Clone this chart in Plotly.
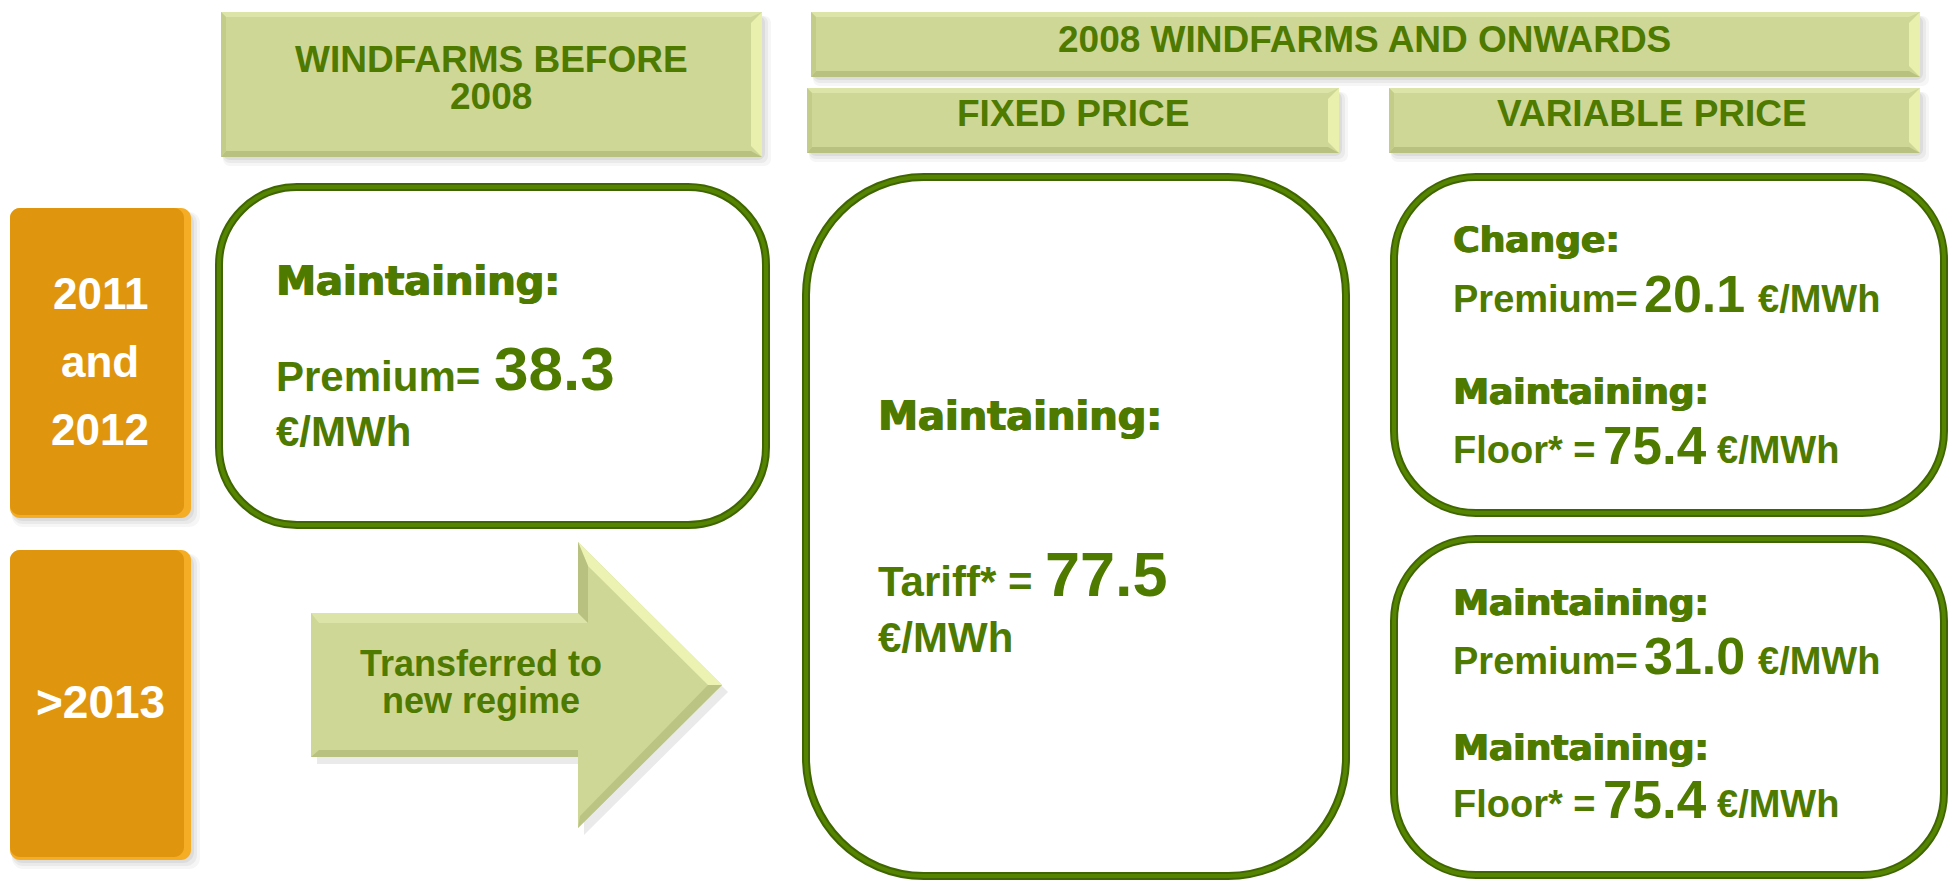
import plotly.graph_objects as go

# ---------------- data ----------------
column_headers = ["WINDFARMS BEFORE<br>2008", "2008 WINDFARMS AND ONWARDS", "FIXED PRICE", "VARIABLE PRICE"]
period_labels = [["2011", "and", "2012"], [">2013"]]
transfer_label = ["Transferred to", "new regime"]
unit = "€/MWh"

premium_before_2008 = "38.3"
tariff_fixed = "77.5"
variable_status_premium = ["Change:", "Maintaining:"]
variable_premium = ["20.1", "31.0"]
variable_status_floor = ["Maintaining:", "Maintaining:"]
variable_floor = ["75.4", "75.4"]

# ---------------- style ----------------
W, H = 1955, 880
GREEN = "#4E7A00"
HDR_FILL = "#CFD797"
ORANGE = "#E0950F"
ARIAL = "Liberation Sans, Arial, sans-serif"
HEAVY = "DejaVu Sans, Arial Black, sans-serif"

shapes = []
annots = []


def poly(pts, fill, opacity=1.0):
    p = "M" + " L".join(f"{x},{y}" for x, y in pts) + " Z"
    shapes.append(dict(type="path", path=p, xref="x", yref="y", fillcolor=fill,
                       opacity=opacity, line=dict(width=0)))


def rrect_path(x0, y0, x1, y1, r):
    k = 0.5523 * r
    return (f"M{x0 + r},{y0} L{x1 - r},{y0} C{x1 - r + k},{y0} {x1},{y0 + r - k} {x1},{y0 + r} "
            f"L{x1},{y1 - r} C{x1},{y1 - r + k} {x1 - r + k},{y1} {x1 - r},{y1} "
            f"L{x0 + r},{y1} C{x0 + r - k},{y1} {x0},{y1 - r + k} {x0},{y1 - r} "
            f"L{x0},{y0 + r} C{x0},{y0 + r - k} {x0 + r - k},{y0} {x0 + r},{y0} Z")


def shadow(x0, y0, x1, y1, r=4):
    for i, op in [(9, 0.05), (6, 0.07), (3, 0.09)]:
        shapes.append(dict(type="path", path=rrect_path(x0 + 2, y0 + 4, x1 + i, y1 + i, r + 3),
                           xref="x", yref="y", fillcolor="#555555", opacity=op, line=dict(width=0)))


def header_box(x0, y0, x1, y1, w=11):
    shadow(x0, y0, x1, y1)
    poly([(x0, y0), (x1, y0), (x1, y1), (x0, y1)], HDR_FILL)
    poly([(x0, y0), (x1, y0), (x1 - w, y0 + 5), (x0 + 5, y0 + 5)], "#DDE4A8")
    poly([(x1, y0), (x1, y1), (x1 - w, y1 - w), (x1 - w, y0 + w)], "#E9F0AE")
    poly([(x0, y1), (x1, y1), (x1 - w, y1 - 6), (x0 + 5, y1 - 6)], "#B9C180")
    poly([(x0, y0), (x0, y1), (x0 + 5, y1 - 6), (x0 + 5, y0 + 5)], "#C4CC8A")


def orange_box(x0, y0, x1, y1):
    shadow(x0, y0, x1, y1, 8)
    shapes.append(dict(type="path", path=rrect_path(x0, y0, x1, y1, 10), xref="x", yref="y",
                       fillcolor="#F5AD25", line=dict(width=0)))
    shapes.append(dict(type="path", path=rrect_path(x0, y0, x1 - 7, y1 - 3, 10), xref="x", yref="y",
                       fillcolor=ORANGE, line=dict(width=0)))


def white_box(x0, y0, x1, y1, r):
    shapes.append(dict(type="path", path=rrect_path(x0, y0, x1, y1, r), xref="x", yref="y",
                       fillcolor="white", line=dict(color="#3F6500", width=8)))
    shapes.append(dict(type="path", path=rrect_path(x0, y0, x1, y1, r), xref="x", yref="y",
                       fillcolor="rgba(0,0,0,0)", line=dict(color="#558400", width=4)))


def text(x, y, s, size, color=GREEN, family=ARIAL, anchor="left", heavy=False):
    font = dict(family=family, size=size, color=color)
    if heavy:
        font["shadow"] = f"1px 0px 0px {color}, -0.5px 0px 0px {color}"
    annots.append(dict(x=x, y=y, xref="x", yref="y", text=f"<b>{s}</b>", showarrow=False,
                       xanchor=anchor, yanchor="middle", font=font))


# ---------------- headers ----------------
header_box(221, 12, 762, 157)
header_box(811, 12, 1920, 77)
header_box(807, 88, 1339, 153)
header_box(1389, 88, 1920, 153)
h1 = column_headers[0].split("<br>")
text(491, 59, h1[0], 37, anchor="center")
text(491, 96, h1[1], 37, anchor="center")
text(1364, 39, column_headers[1], 37, anchor="center")
text(1073, 113, column_headers[2], 37, anchor="center")
text(1652, 113, column_headers[3], 37, anchor="center")

# ---------------- period boxes ----------------
orange_box(10, 208, 191, 518)
orange_box(10, 550, 191, 860)
for lab, yy in zip(period_labels[0], [293, 361, 429]):
    text(100, yy, lab, 44, color="white", anchor="center")
text(100, 702, period_labels[1][0], 46, color="white", anchor="center")

# ---------------- arrow ----------------
arrow = [(311, 613), (578, 613), (578, 542), (722, 685), (578, 828), (578, 757), (311, 757)]
poly([(x + 6, y + 7) for x, y in arrow], "#555555", 0.12)
poly(arrow, HDR_FILL)
poly([(578, 542), (722, 685), (708, 685), (588, 566)], "#EBF2B2")
poly([(311, 613), (578, 613), (588, 623), (319, 623)], "#DDE4A8")
poly([(311, 757), (578, 757), (578, 750), (319, 750)], "#B9C180")
poly([(578, 542), (588, 566), (588, 623), (578, 613)], "#B9C180")
poly([(722, 685), (578, 828), (580, 816), (708, 685)], "#BCC483")
text(481, 663, transfer_label[0], 36, anchor="center")
text(481, 700, transfer_label[1], 36, anchor="center")

# ---------------- white boxes ----------------
white_box(219, 187, 766, 525, 78)
white_box(806, 177, 1346, 876, 118)
white_box(1394, 177, 1944, 513, 82)
white_box(1394, 539, 1944, 875, 82)

# box 1: windfarms before 2008
text(274, 281, "Maintaining:", 40, family=HEAVY, heavy=True)
text(274, 376, "Premium=", 42)
text(492, 368, premium_before_2008, 62)
text(274, 431, unit, 42)

# fixed price
text(876, 416, "Maintaining:", 40, family=HEAVY, heavy=True)
text(876, 581, "Tariff* =", 42)
text(1043, 574, tariff_fixed, 63)
text(876, 637, unit, 42)

# variable price
rows = [(239, 299, 391, 450), (602, 661, 747, 804)]
for i, (y_s, y_p, y_m, y_f) in enumerate(rows):
    text(1451, y_s, variable_status_premium[i], 36, family=HEAVY, heavy=True)
    text(1451, y_p, "Premium=", 38)
    text(1642, y_p - 5, variable_premium[i], 52)
    text(1756, y_p, unit, 38)
    text(1451, y_m, variable_status_floor[i], 36, family=HEAVY, heavy=True)
    text(1451, y_f, "Floor* =", 38)
    text(1601, y_f - 5, variable_floor[i], 53)
    text(1715, y_f, unit, 38)

fig = go.Figure()
fig.update_layout(
    width=W, height=H, margin=dict(l=0, r=0, t=0, b=0),
    paper_bgcolor="white", plot_bgcolor="white",
    xaxis=dict(range=[0, W], visible=False, fixedrange=True),
    yaxis=dict(range=[H, 0], visible=False, fixedrange=True),
    shapes=shapes, annotations=annots, showlegend=False,
)
fig.write_html(
    "out.html",
    config={"displayModeBar": False},
    post_script="document.body.style.margin='0px';document.body.style.overflow='hidden';",
)
